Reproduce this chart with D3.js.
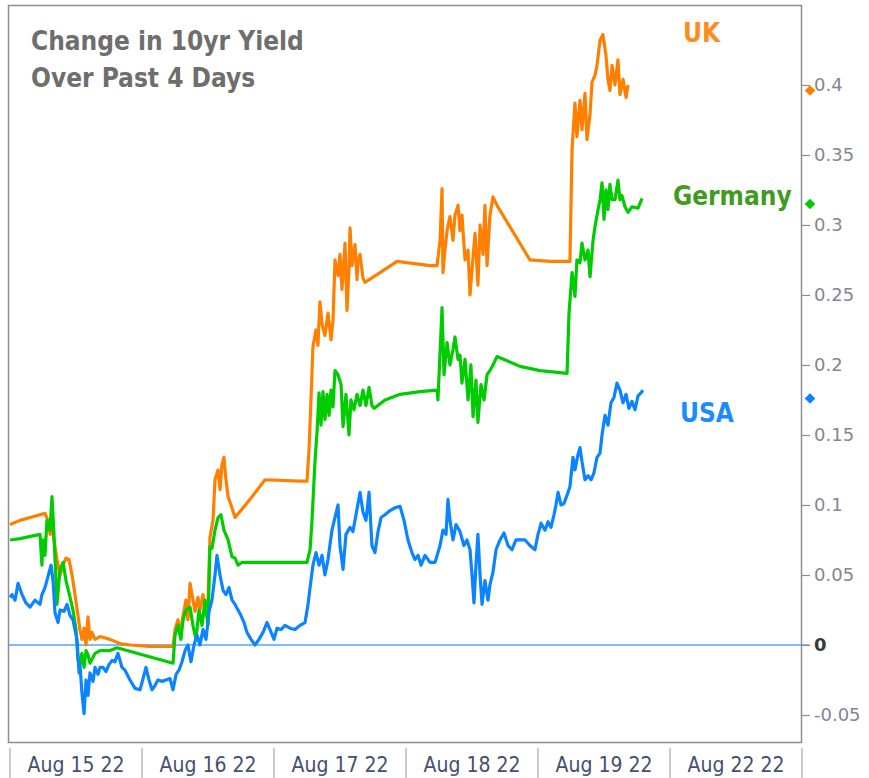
<!DOCTYPE html>
<html><head><meta charset="utf-8">
<script src="https://cdn.jsdelivr.net/npm/d3@7"></script>
<style>
html,body{margin:0;padding:0;background:#fff;}
svg{display:block;}
</style></head>
<body>
<svg id="chart" width="869" height="778"></svg>
<script>
// ---- DATA (time in trading days since Aug 15 open, value = change in 10yr yield, %) ----
const dayLabels = ["Aug 15 22","Aug 16 22","Aug 17 22","Aug 18 22","Aug 19 22","Aug 22 22"];
const yTicks = [-0.05,0,0.05,0.1,0.15,0.2,0.25,0.3,0.35,0.4];
const seriesNames = ["UK","Germany","USA"];
const lastValues = [0.396,0.315,0.176];

const ukData = [[0,0.086],[0.076,0.089],[0.152,0.091],[0.265,0.094],[0.288,0.089],[0.303,0.079],[0.318,0.084],[0.333,0.075],[0.356,0.061],[0.379,0.050],[0.402,0.057],[0.424,0.062],[0.447,0.061],[0.470,0.050],[0.492,0.036],[0.515,0.021],[0.530,0.011],[0.545,0.004],[0.561,0.012],[0.576,0.000],[0.591,0.020],[0.606,0.004],[0.621,0.009],[0.644,0.004],[0.682,0.006],[0.758,0.004],[0.833,0.001],[0.909,0.000],[1.061,-0.001],[1.235,-0.001],[1.250,0.011],[1.273,0.018],[1.288,0.007],[1.311,0.021],[1.333,0.032],[1.348,0.018],[1.364,0.044],[1.386,0.032],[1.402,0.024],[1.424,0.034],[1.439,0.025],[1.462,0.036],[1.485,0.021],[1.500,0.032],[1.515,0.077],[1.538,0.089],[1.553,0.118],[1.576,0.125],[1.591,0.111],[1.606,0.129],[1.621,0.134],[1.636,0.118],[1.652,0.106],[1.674,0.100],[1.705,0.091],[1.818,0.104],[1.932,0.118],[2.197,0.117],[2.250,0.117],[2.265,0.139],[2.280,0.175],[2.295,0.213],[2.318,0.225],[2.333,0.214],[2.348,0.245],[2.364,0.229],[2.386,0.221],[2.409,0.237],[2.432,0.218],[2.447,0.232],[2.462,0.275],[2.485,0.264],[2.500,0.279],[2.515,0.254],[2.538,0.287],[2.553,0.239],[2.568,0.268],[2.576,0.298],[2.591,0.271],[2.614,0.286],[2.629,0.261],[2.636,0.274],[2.652,0.279],[2.674,0.262],[2.689,0.259],[2.803,0.266],[2.932,0.274],[3.182,0.271],[3.235,0.271],[3.258,0.289],[3.273,0.326],[3.280,0.266],[3.295,0.282],[3.311,0.296],[3.333,0.306],[3.356,0.289],[3.371,0.307],[3.394,0.314],[3.409,0.296],[3.424,0.307],[3.447,0.275],[3.470,0.282],[3.485,0.250],[3.500,0.268],[3.523,0.294],[3.545,0.257],[3.561,0.300],[3.583,0.279],[3.598,0.314],[3.614,0.271],[3.636,0.307],[3.659,0.320],[3.689,0.314],[3.939,0.275],[4.091,0.274],[4.242,0.274],[4.258,0.354],[4.280,0.387],[4.295,0.363],[4.318,0.389],[4.333,0.368],[4.356,0.394],[4.371,0.361],[4.394,0.379],[4.409,0.402],[4.432,0.407],[4.447,0.414],[4.470,0.432],[4.492,0.436],[4.515,0.421],[4.530,0.404],[4.545,0.396],[4.561,0.414],[4.583,0.400],[4.606,0.418],[4.621,0.393],[4.644,0.404],[4.667,0.391],[4.682,0.400]];

const deData = [[0,0.075],[0.076,0.076],[0.227,0.079],[0.242,0.057],[0.250,0.075],[0.265,0.064],[0.280,0.089],[0.303,0.082],[0.318,0.106],[0.333,0.079],[0.356,0.029],[0.379,0.054],[0.402,0.059],[0.424,0.046],[0.455,0.034],[0.477,0.025],[0.500,0.011],[0.515,-0.011],[0.530,-0.014],[0.545,-0.006],[0.561,-0.016],[0.576,-0.004],[0.591,-0.007],[0.606,-0.013],[0.644,-0.006],[0.682,-0.004],[0.758,-0.004],[0.811,-0.002],[1.235,-0.013],[1.250,0.007],[1.273,0.014],[1.295,0.004],[1.311,0.018],[1.333,0.025],[1.364,0.027],[1.386,0.014],[1.409,0.004],[1.432,0.025],[1.455,0.014],[1.477,0.032],[1.500,0.014],[1.515,0.070],[1.530,0.069],[1.553,0.082],[1.576,0.091],[1.598,0.093],[1.621,0.082],[1.652,0.075],[1.682,0.063],[1.705,0.062],[1.727,0.057],[1.758,0.059],[2.250,0.059],[2.273,0.068],[2.288,0.089],[2.311,0.132],[2.326,0.152],[2.341,0.180],[2.356,0.157],[2.371,0.181],[2.386,0.161],[2.402,0.179],[2.417,0.164],[2.432,0.182],[2.447,0.170],[2.462,0.196],[2.485,0.193],[2.508,0.186],[2.523,0.156],[2.545,0.179],[2.568,0.150],[2.583,0.175],[2.606,0.168],[2.629,0.179],[2.652,0.171],[2.674,0.182],[2.697,0.171],[2.720,0.184],[2.742,0.171],[2.758,0.169],[2.841,0.175],[2.955,0.179],[3.106,0.181],[3.235,0.182],[3.242,0.175],[3.273,0.241],[3.288,0.193],[3.311,0.216],[3.333,0.200],[3.356,0.211],[3.371,0.220],[3.394,0.204],[3.409,0.207],[3.424,0.187],[3.447,0.204],[3.470,0.175],[3.492,0.200],[3.508,0.163],[3.530,0.189],[3.545,0.159],[3.568,0.186],[3.591,0.175],[3.614,0.193],[3.636,0.196],[3.659,0.200],[3.689,0.206],[3.864,0.199],[4.015,0.196],[4.220,0.194],[4.235,0.237],[4.258,0.266],[4.280,0.249],[4.295,0.275],[4.318,0.273],[4.333,0.287],[4.356,0.275],[4.379,0.282],[4.394,0.263],[4.417,0.289],[4.432,0.299],[4.455,0.311],[4.470,0.318],[4.485,0.330],[4.500,0.304],[4.515,0.325],[4.530,0.311],[4.545,0.329],[4.561,0.318],[4.583,0.318],[4.606,0.332],[4.621,0.318],[4.636,0.321],[4.659,0.313],[4.682,0.309],[4.712,0.313],[4.758,0.312],[4.788,0.319]];

const usData = [[0,0.034],[0.015,0.036],[0.038,0.032],[0.061,0.044],[0.091,0.036],[0.121,0.030],[0.152,0.027],[0.189,0.032],[0.227,0.029],[0.242,0.036],[0.265,0.041],[0.288,0.049],[0.311,0.057],[0.326,0.046],[0.341,0.023],[0.364,0.016],[0.379,0.025],[0.409,0.024],[0.432,0.029],[0.455,0.021],[0.477,0.018],[0.492,0.011],[0.508,0.004],[0.523,-0.020],[0.530,-0.014],[0.545,-0.034],[0.561,-0.049],[0.576,-0.025],[0.591,-0.036],[0.606,-0.020],[0.629,-0.026],[0.644,-0.016],[0.667,-0.021],[0.682,-0.016],[0.705,-0.016],[0.727,-0.019],[0.750,-0.014],[0.773,-0.011],[0.795,-0.012],[0.818,-0.006],[0.848,-0.016],[0.871,-0.018],[0.909,-0.025],[0.947,-0.031],[0.985,-0.032],[1.008,-0.024],[1.030,-0.016],[1.053,-0.025],[1.076,-0.032],[1.098,-0.029],[1.121,-0.025],[1.152,-0.026],[1.182,-0.025],[1.212,-0.024],[1.235,-0.032],[1.258,-0.021],[1.280,-0.018],[1.303,-0.012],[1.326,-0.004],[1.348,0.000],[1.371,-0.012],[1.394,0.000],[1.417,0.007],[1.439,0.000],[1.462,0.011],[1.485,0.004],[1.508,0.024],[1.530,0.032],[1.553,0.050],[1.568,0.064],[1.591,0.050],[1.614,0.039],[1.636,0.036],[1.659,0.041],[1.682,0.032],[1.705,0.029],[1.727,0.025],[1.750,0.021],[1.773,0.016],[1.795,0.009],[1.826,0.004],[1.856,0.000],[1.886,0.004],[1.917,0.009],[1.947,0.016],[1.970,0.011],[2.000,0.004],[2.023,0.012],[2.053,0.011],[2.083,0.014],[2.121,0.012],[2.159,0.011],[2.197,0.014],[2.235,0.016],[2.258,0.029],[2.273,0.041],[2.295,0.057],[2.318,0.066],[2.341,0.057],[2.364,0.064],[2.386,0.050],[2.409,0.061],[2.439,0.082],[2.462,0.091],[2.485,0.100],[2.500,0.071],[2.523,0.054],[2.545,0.079],[2.576,0.084],[2.598,0.081],[2.621,0.093],[2.652,0.109],[2.674,0.095],[2.697,0.089],[2.720,0.109],[2.742,0.071],[2.765,0.066],[2.788,0.081],[2.811,0.091],[2.841,0.093],[2.879,0.096],[2.917,0.098],[2.955,0.099],[2.985,0.089],[3.015,0.075],[3.045,0.066],[3.068,0.061],[3.091,0.064],[3.114,0.057],[3.144,0.064],[3.182,0.059],[3.220,0.059],[3.258,0.071],[3.280,0.082],[3.303,0.079],[3.318,0.104],[3.333,0.089],[3.356,0.075],[3.379,0.086],[3.409,0.081],[3.439,0.071],[3.462,0.075],[3.485,0.068],[3.500,0.050],[3.515,0.030],[3.530,0.057],[3.545,0.079],[3.561,0.050],[3.576,0.029],[3.598,0.046],[3.621,0.032],[3.636,0.043],[3.659,0.052],[3.682,0.068],[3.712,0.075],[3.742,0.080],[3.773,0.071],[3.803,0.068],[3.833,0.075],[3.864,0.075],[3.902,0.075],[3.939,0.071],[3.977,0.068],[4.000,0.079],[4.023,0.087],[4.053,0.082],[4.076,0.088],[4.098,0.084],[4.121,0.093],[4.136,0.100],[4.152,0.109],[4.174,0.100],[4.197,0.101],[4.220,0.107],[4.242,0.113],[4.265,0.134],[4.280,0.125],[4.303,0.136],[4.318,0.141],[4.333,0.131],[4.356,0.118],[4.379,0.121],[4.402,0.118],[4.424,0.123],[4.447,0.134],[4.470,0.137],[4.485,0.150],[4.508,0.164],[4.530,0.157],[4.553,0.173],[4.576,0.177],[4.598,0.187],[4.621,0.182],[4.644,0.173],[4.667,0.179],[4.689,0.169],[4.712,0.174],[4.735,0.168],[4.758,0.178],[4.780,0.180],[4.795,0.182]];

// ---- LAYOUT / STYLE ----
const lineColors = ["#ff8000","#00cc00","#0a84ff"];
const labelColors = ["#ff8a1e","#3f9c1e","#1a8cff"];
const svg = d3.select("#chart");
const plot = {left:8, right:802, top:5, bottom:742};

const x = d3.scaleLinear().domain([0,6]).range([10,802]);
const y = d3.scaleLinear().domain([-0.0693,0.4571]).range([plot.bottom, plot.top]);

svg.append("defs").append("clipPath").attr("id","clip")
  .append("rect").attr("x",plot.left).attr("y",plot.top)
  .attr("width",plot.right-plot.left).attr("height",plot.bottom-plot.top);

// zero line
svg.append("line")
  .attr("x1",plot.left).attr("x2",plot.right+7)
  .attr("y1",y(0)).attr("y2",y(0))
  .attr("stroke","#7fbcff").attr("stroke-width",2);

// series lines
const line = d3.line().x(d=>x(d[0])).y(d=>y(d[1]));
const allData = [ukData, deData, usData];
const g = svg.append("g").attr("clip-path","url(#clip)");
allData.forEach((data,i)=>{
  g.append("path").datum(data)
    .attr("d",line)
    .attr("fill","none")
    .attr("stroke",lineColors[i])
    .attr("stroke-width",3.2)
    .attr("stroke-linejoin","round");
});

// frame
svg.append("rect")
  .attr("x",plot.left+0.5).attr("y",plot.top+0.5)
  .attr("width",plot.right-plot.left-1).attr("height",plot.bottom-plot.top)
  .attr("fill","none").attr("stroke","#8e8e8e").attr("stroke-width",1.5);

// right axis
const fmt = v => v===0 ? "0" : String(+v.toFixed(2));
const yAxis = d3.axisRight(y).tickValues(yTicks).tickFormat(fmt).tickSize(8).tickPadding(4);
const ya = svg.append("g").attr("transform",`translate(${plot.right},0)`).call(yAxis);
ya.select(".domain").remove();
ya.selectAll(".tick line").attr("stroke","#8e8e8e").attr("stroke-width",1.2);
ya.selectAll(".tick text")
  .attr("font-family","'DejaVu Sans', Verdana, sans-serif")
  .attr("font-size",18)
  .attr("fill","#858592")
  .filter(d=>d===0).attr("font-weight","bold").attr("fill","#3a3a3a");

// last-value diamonds (rotated squares)
const sym = d3.symbol().type(d3.symbolSquare).size(56);
lastValues.forEach((v,i)=>{
  svg.append("path").attr("d",sym)
    .attr("transform",`translate(${plot.right+8},${y(v)}) rotate(45)`)
    .attr("fill",lineColors[i]);
});

// bottom axis: separators and day labels
const xa = svg.append("g");
d3.range(0,7).forEach(k=>{
  xa.append("line").attr("x1",x(k)).attr("x2",x(k))
    .attr("y1",748).attr("y2",778)
    .attr("stroke","#a8a8a8").attr("stroke-width",1.2);
});
dayLabels.forEach((lab,k)=>{
  xa.append("text").attr("x",x(k+0.5)).attr("y",772)
    .attr("text-anchor","middle")
    .attr("font-family","'Liberation Sans Narrow','DejaVu Sans Condensed',sans-serif")
    .attr("font-size",21)
    .attr("fill","#44506e")
    .text(lab);
});

// title
const title = svg.append("text")
  .attr("font-family","'DejaVu Sans Condensed','DejaVu Sans',sans-serif")
  .attr("font-weight","bold").attr("font-size",26).attr("fill","#6e6e6e");
title.append("tspan").attr("x",31).attr("y",50).text("Change in 10yr Yield");
title.append("tspan").attr("x",31).attr("y",87).text("Over Past 4 Days");

// series labels
const labelPos = [[683,42],[673,205],[680,422]];
seriesNames.forEach((n,i)=>{
  svg.append("text").attr("x",labelPos[i][0]).attr("y",labelPos[i][1])
    .attr("font-family","'DejaVu Sans Condensed','DejaVu Sans',sans-serif")
    .attr("font-weight","bold").attr("font-size",26)
    .attr("fill",labelColors[i]).text(n);
});
</script>
</body></html>
